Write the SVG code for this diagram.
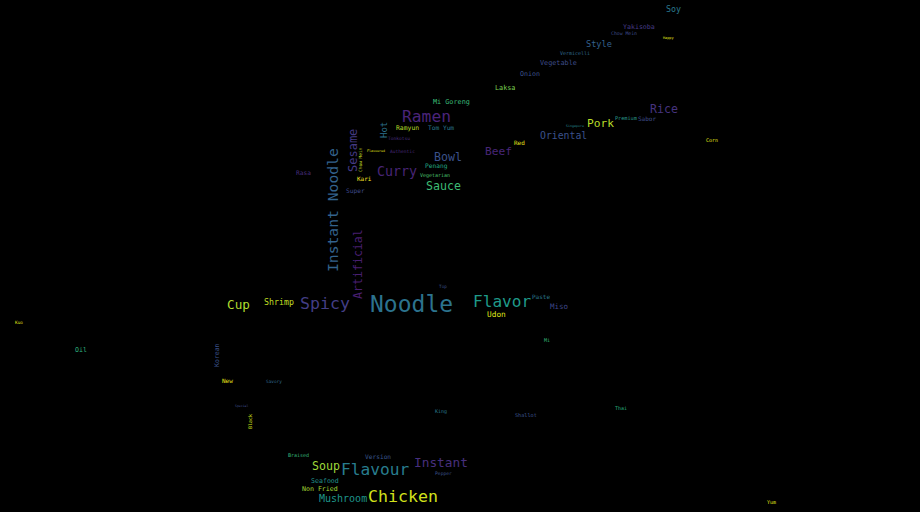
<svg xmlns="http://www.w3.org/2000/svg" width="920" height="512" viewBox="0 0 920 512">
<style>
text{font-family:"DejaVu Sans Mono","Liberation Mono",monospace;}
</style>
<rect width="920" height="512" fill="#000000"/>
<g id="words">
<text x="370" y="311.5" font-size="23" fill="#2c738e">Noodle</text>
<text x="368" y="502" font-size="16.6" fill="#d2e21b">Chicken</text>
<text x="341" y="474.5" font-size="16.2" fill="#287d8e">Flavour</text>
<text x="414" y="467" font-size="12.8" fill="#472f7d">Instant</text>
<text x="473" y="306.5" font-size="16.1" fill="#1f9a8a">Flavor</text>
<text x="300" y="309" font-size="16.6" fill="#433e85">Spicy</text>
<text x="402" y="121.5" font-size="16.3" fill="#4a2479">Ramen</text>
<text x="377" y="175.5" font-size="13.3" fill="#482576">Curry</text>
<text transform="translate(337.5,272) rotate(-90)" font-size="14.7" fill="#33638d">Instant Noodle</text>
<text transform="translate(357,172) rotate(-90)" font-size="12" fill="#443983">Sesame</text>
<text transform="translate(362,299) rotate(-90)" font-size="11.6" fill="#481f70">Artificial</text>
<text transform="translate(386.5,138) rotate(-90)" font-size="9" fill="#2c728e">Hot</text>
<text x="426" y="190" font-size="11.6" fill="#3dbc74">Sauce</text>
<text x="434" y="160.5" font-size="11.6" fill="#3b528b">Bowl</text>
<text x="485" y="155" font-size="11.2" fill="#482677">Beef</text>
<text x="587" y="127" font-size="11.2" fill="#bade28">Pork</text>
<text x="650" y="113" font-size="11.6" fill="#46337e">Rice</text>
<text x="540" y="138.5" font-size="9.8" fill="#3b528b">Oriental</text>
<text x="586" y="47" font-size="8.6" fill="#34618d">Style</text>
<text x="666" y="12" font-size="8.3" fill="#2a788e">Soy</text>
<text x="623" y="29" font-size="6.6" fill="#443a83">Yakisoba</text>
<text x="611" y="35" font-size="4.8" fill="#3e4c8a">Chow Mein</text>
<text x="663" y="39" font-size="3.5" fill="#e5e419">Happy</text>
<text x="560" y="54.5" font-size="5" fill="#31688e">Vermicelli</text>
<text x="540" y="65" font-size="6.8" fill="#3e4c8a">Vegetable</text>
<text x="520" y="76" font-size="6.6" fill="#3b528b">Onion</text>
<text x="495" y="90" font-size="6.8" fill="#7ad151">Laksa</text>
<text x="433" y="104" font-size="6.8" fill="#3aba76">Mi Goreng</text>
<text x="396" y="130" font-size="6.4" fill="#b8de29">Ramyun</text>
<text x="428" y="130" font-size="6.2" fill="#2a788e">Tom Yum</text>
<text x="388" y="139.5" font-size="4.6" fill="#472d7b">Tonkotsu</text>
<text x="390" y="152.5" font-size="4.6" fill="#482878">Authentic</text>
<text x="367" y="152" font-size="3.3" fill="#e5e419">Flavoured</text>
<text transform="translate(362,172) rotate(-90)" font-size="4.5" fill="#c2df23">Chow Mein</text>
<text x="425" y="168" font-size="6.2" fill="#22a884">Penang</text>
<text x="420" y="176.5" font-size="5" fill="#4ac16d">Vegetarian</text>
<text x="357" y="180.5" font-size="6" fill="#fde725">Kari</text>
<text x="346" y="193" font-size="6.2" fill="#3e4989">Super</text>
<text x="296" y="175" font-size="6.2" fill="#472d7b">Rasa</text>
<text x="615" y="119.5" font-size="5.2" fill="#2a9a8b">Premium</text>
<text x="638" y="120.5" font-size="6" fill="#3e4c8a">Sabor</text>
<text x="566" y="126.5" font-size="3.3" fill="#26828e">Singapore</text>
<text x="514" y="145" font-size="6" fill="#e5e419">Red</text>
<text x="706" y="141.5" font-size="5" fill="#e5e419">Corn</text>
<text x="227" y="309" font-size="12.7" fill="#b0dd2f">Cup</text>
<text x="264" y="305" font-size="8.3" fill="#c2df23">Shrimp</text>
<text x="487" y="317" font-size="7.8" fill="#dfe318">Udon</text>
<text x="550" y="308.5" font-size="7.5" fill="#3f4788">Miso</text>
<text x="532" y="299" font-size="6" fill="#2a788e">Paste</text>
<text x="439" y="288" font-size="4.4" fill="#3b528b">Top</text>
<text x="544" y="341.5" font-size="5" fill="#35b779">Mi</text>
<text x="312" y="470" font-size="11.6" fill="#9fda3a">Soup</text>
<text x="311" y="483" font-size="6.6" fill="#21918c">Seafood</text>
<text x="302" y="491" font-size="6.6" fill="#a5db36">Non Fried</text>
<text x="319" y="501.5" font-size="10" fill="#1f968b">Mushroom</text>
<text x="365" y="458.5" font-size="6.2" fill="#39568c">Version</text>
<text x="288" y="456.5" font-size="5" fill="#35b779">Braised</text>
<text x="435" y="475" font-size="4.7" fill="#3b528b">Pepper</text>
<text x="435" y="412.5" font-size="5" fill="#2a788e">King</text>
<text x="515" y="416.5" font-size="5.2" fill="#3b528b">Shallot</text>
<text x="615" y="409.5" font-size="5" fill="#29af7f">Thai</text>
<text x="767" y="504" font-size="5" fill="#e5e419">Yum</text>
<text transform="translate(252,429) rotate(-90)" font-size="5" fill="#d8e219">Black</text>
<text x="235" y="407" font-size="3.2" fill="#3e4c8a">Special</text>
<text transform="translate(219,367) rotate(-90)" font-size="6.5" fill="#3b528b">Korean</text>
<text x="222" y="383" font-size="6" fill="#e7e419">New</text>
<text x="266" y="382.5" font-size="4.4" fill="#31688e">Savory</text>
<text x="75" y="351.5" font-size="6.6" fill="#2db27d">Oil</text>
<text x="15" y="323.5" font-size="4.4" fill="#e2e418">Kuo</text>
</g>
</svg>
